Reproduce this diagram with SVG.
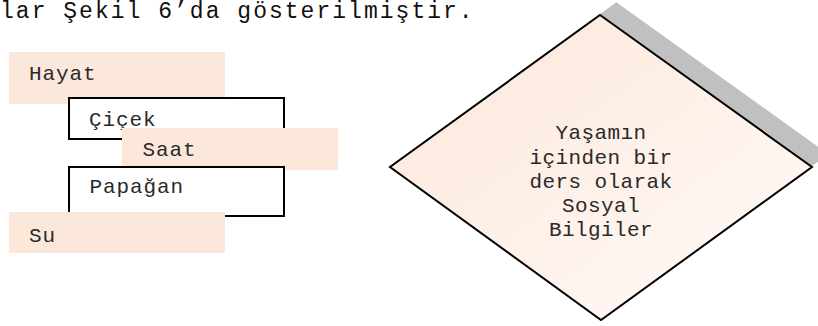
<svg xmlns="http://www.w3.org/2000/svg" width="818" height="326" viewBox="0 0 818 326">
<defs>
<linearGradient id="dg" x1="0" y1="0" x2="1" y2="1">
<stop offset="0" stop-color="#FCE6D8"/>
<stop offset="1" stop-color="#FFFBF9"/>
</linearGradient>
<style>
text{font-family:"Liberation Mono","Courier New",monospace;font-size:21px;fill:#2a2a2a;}
.hdr{font-size:23px;letter-spacing:2.02px;fill:#111;}
.bt{letter-spacing:0.9px;}
.dt{letter-spacing:0.4px;text-anchor:middle;}
.peach{fill:#FCE8DA;stroke:none;}
.wbox{fill:#fff;stroke:#000;stroke-width:2;}
</style>
</defs>
<rect width="818" height="326" fill="#fff"/>
<text class="hdr" x="0" y="18">lar Şekil 6’da gösterilmiştir.</text>
<g id="hayat"><rect class="peach" x="9" y="52" width="216" height="52"/><text class="bt" x="29" y="80">Hayat</text></g>
<g id="cicek"><rect class="wbox" x="69" y="98" width="215" height="41"/><text class="bt" x="89" y="126">Çiçek</text></g>
<g id="saat"><rect class="peach" x="122" y="128" width="216" height="42"/><text class="bt" x="142.5" y="156">Saat</text></g>
<g id="papagan"><rect class="wbox" x="69" y="167" width="215" height="49"/><text class="bt" x="89.5" y="193">Papağan</text></g>
<g id="su"><rect class="peach" x="9" y="212" width="216" height="41"/><text class="bt" x="29" y="241.5">Su</text></g>
<g id="diamond">
<polygon points="616.4,2.2 828.4,154.2 617.4,307.2 406.4,154.2" fill="#C0C0C0"/>
<polygon points="600,15 812,167 601,320 390,167" fill="url(#dg)" stroke="#000" stroke-width="2" stroke-linejoin="miter"/>
<text class="dt" x="601" y="139.3">Yaşamın</text>
<text class="dt" x="601" y="163.5">içinden bir</text>
<text class="dt" x="601" y="187.7">ders olarak</text>
<text class="dt" x="601" y="211.8">Sosyal</text>
<text class="dt" x="601" y="236">Bilgiler</text>
</g>
<g id="connectors"/>
</svg>
